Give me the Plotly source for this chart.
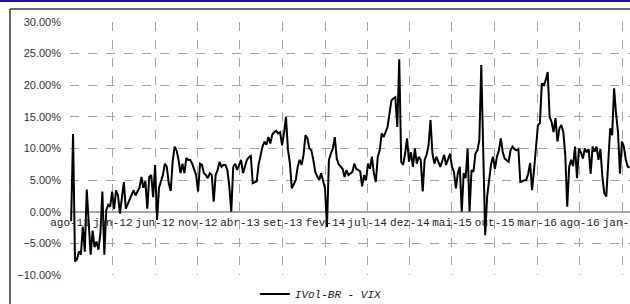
import pandas as pd
import plotly.graph_objects as go

series_name = "IVol-BR - VIX"
start_date = "2011-08-05"

# weekly spread values (%)
spread_values = [
    -1.5, 12.3, -7.9, -7.5, -6.3, -6.8, -2.4, -6.3, 3.5, -2.4,
    -6.8, -3.0, -5.6, -4.7, -6.0, -3.4, 3.2, -6.8, 0.3, 1.1,
    0.8, 3.2, 0.4, 3.4, 2.6, -0.3, 2.6, 4.7, 0.5, 1.3,
    2.0, 2.8, 3.4, 2.6, 3.2, 3.8, 5.5, 3.8, 4.8, 0.5,
    5.5, 5.8, 2.3, 7.4, -1.3, 3.8, 4.8, 5.8, 7.6, 7.1,
    4.5, 3.3, 8.0, 10.3, 9.7, 8.2, 6.1, 7.6, 6.1, 8.5,
    8.2, 8.2, 7.6, 6.8, 5.8, 3.2, 7.6, 7.4, 6.1, 5.8,
    5.3, 6.1, 5.8, 1.6, 5.8, 6.6, 7.9, 7.1, 7.4, 7.4,
    6.6, 4.0, 0.0, 7.1, 7.6, 6.6, 7.6, 8.2, 6.1, 7.1,
    8.2, 8.6, 8.8, 4.5, 4.6, 4.8, 7.5, 9.2, 10.3, 11.1,
    10.6, 11.8, 10.8, 12.2, 12.6, 12.8, 12.4, 12.6, 10.5, 12.4,
    15.0, 9.9, 7.7, 3.7, 4.5, 5.0, 7.1, 8.2, 7.4, 9.0,
    12.1, 11.6, 10.0, 9.7, 8.2, 6.3, 5.6, 5.0, 6.1, 4.8,
    3.7, -2.4, 8.2, 9.2, 10.0, 11.8, 8.4, 7.5, 7.1, 6.8,
    5.5, 6.6, 5.8, 6.0, 6.3, 7.6, 6.8, 6.6, 6.4, 4.0,
    5.8, 5.0, 7.6, 6.8, 8.7, 6.1, 4.7, 8.7, 9.7, 12.4,
    11.8, 12.6, 13.4, 15.5, 17.6, 17.9, 18.1, 13.4, 24.1, 7.9,
    7.4, 9.2, 11.6, 7.9, 9.4, 7.1, 10.0, 7.6, 8.7, 8.2,
    3.2, 8.2, 9.0, 10.5, 14.5, 9.2, 7.6, 8.7, 7.9, 7.1,
    8.0, 9.0, 7.4, 8.2, 9.2, 7.1, 6.3, 3.7, 6.1, 7.1,
    0.0, 6.1, 5.3, 10.0, 0.0, 6.6, 6.3, 9.2, 9.7, 11.3,
    23.2, 9.7, -3.7, 2.4, 5.0, 7.5, 8.7, 6.8, 8.7, 9.7,
    11.6, 9.4, 8.4, 8.2, 7.9, 9.7, 10.3, 9.9, 9.7, 9.9,
    4.7, 4.8, 5.0, 5.0, 6.0, 7.7, 3.4, 6.6, 9.7, 13.7,
    14.0, 20.3, 20.0, 20.8, 22.1, 15.0, 14.2, 12.6, 14.8, 11.1,
    13.2, 13.7, 12.6, 9.0, 0.8, 7.1, 8.2, 7.2, 10.3, 5.3,
    10.0, 9.4, 8.4, 10.0, 9.4, 9.9, 6.0, 10.3, 9.5, 10.3,
    8.2, 9.9, 5.5, 2.9, 2.4, 8.0, 13.2, 12.1, 19.5, 15.5,
    12.6, 6.0, 11.1, 10.3, 8.2, 7.1, 7.0,
]

tick_dates = [
    "2011-08-01", "2012-01-01", "2012-06-01", "2012-11-01", "2013-04-01",
    "2013-09-01", "2014-02-01", "2014-07-01", "2014-12-01", "2015-05-01",
    "2015-10-01", "2016-03-01", "2016-08-01", "2017-01-01",
]
tick_labels = [
    "ago-11", "jan-12", "jun-12", "nov-12", "abr-13", "set-13", "fev-14",
    "jul-14", "dez-14", "mai-15", "out-15", "mar-16", "ago-16", "jan-17",
]
x_range = ["2011-08-01", "2017-01-28"]

y_ticks = [-10, -5, 0, 5, 10, 15, 20, 25, 30]

dates = pd.date_range(start_date, periods=len(spread_values), freq="7D")

fig = go.Figure()
fig.add_trace(go.Scatter(
    x=dates, y=spread_values, mode="lines", name=series_name,
    line=dict(color="#000000", width=2),
))

grid_color = "#a3a3a3"
fig.update_layout(
    width=630, height=304,
    margin=dict(l=70, r=0, t=22, b=29, autoexpand=False),
    paper_bgcolor="white", plot_bgcolor="white",
    template="none",
    showlegend=True,
    legend=dict(
        x=0.33, y=-0.075, xanchor="left", yanchor="middle",
        orientation="h", bgcolor="rgba(0,0,0,0)",
        font=dict(family="Liberation Mono", size=11, color="#222", style="italic"),
    ),
    xaxis=dict(
        type="date", range=x_range,
        tickvals=tick_dates, ticktext=tick_labels, tickangle=0,
        anchor="free", position=0.25,
        showgrid=True, gridcolor=grid_color, griddash="dash", gridwidth=1,
        showline=False, zeroline=False, ticks="",
        ticklabelstandoff=2,
        automargin=False, ticklabeloverflow="allow",
        tickfont=dict(family="Liberation Mono", size=11, color="#222"),
    ),
    yaxis=dict(
        range=[-10, 30], tickvals=y_ticks,
        ticktext=[("\u2212" if v < 0 else "") + f"{abs(v):.2f}%" for v in y_ticks],
        showgrid=True, gridcolor=grid_color, griddash="dash", gridwidth=1,
        zeroline=True, zerolinecolor="#a6a6a6", zerolinewidth=1.5,
        showline=False, ticks="", ticklabelstandoff=8,
        automargin=False, domain=[0, 1],
        tickfont=dict(family="Liberation Sans", size=11, color="#333"),
    ),
)

# outer frame and top accent line
fig.add_shape(type="line", xref="paper", yref="paper",
              x0=(10 - 70) / 560, x1=1.2, y0=1 + 13 / 253, y1=1 + 13 / 253,
              line=dict(color="#3a3a3a", width=1.5))
fig.add_shape(type="line", xref="paper", yref="paper",
              x0=(10 - 70) / 560, x1=(10 - 70) / 560, y0=1 + 13 / 253, y1=-0.2,
              line=dict(color="#3a3a3a", width=1.5))
fig.add_shape(type="line", xref="paper", yref="paper",
              x0=-0.2, x1=1.2, y0=1 + 21 / 253, y1=1 + 21 / 253,
              line=dict(color="#2e0a9a", width=2))

fig.write_html(
    "out.html",
    config={"displayModeBar": False},
    post_script="document.body.style.margin='0px';document.body.style.overflow='hidden';",
)
